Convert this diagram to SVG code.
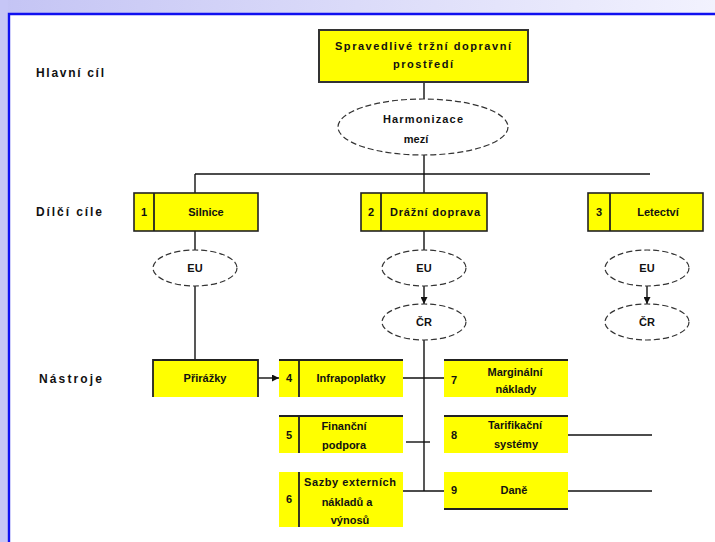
<svg xmlns="http://www.w3.org/2000/svg" width="715" height="542" viewBox="0 0 715 542">
<defs>
<linearGradient id="band" x1="0" y1="0" x2="1" y2="0">
<stop offset="0" stop-color="#c4c4f4"/>
<stop offset="1" stop-color="#f2f2fe"/>
</linearGradient>
<marker id="arr" viewBox="0 0 8 8" refX="8" refY="4" markerWidth="7" markerHeight="7" markerUnits="userSpaceOnUse" orient="auto">
<path d="M0,0 L8,4 L0,8 z" fill="#111"/>
</marker>
<style>
text{font-family:"Liberation Sans",Arial,sans-serif;font-size:11px;font-weight:bold;fill:#111}
.lbl{font-size:12px}
.c{text-anchor:middle}
.box{fill:#ffff00;stroke:#222;stroke-width:1.6}
.fill{fill:#ffff00}
.bd{stroke:#222;stroke-width:1.8;fill:none}
.ell{fill:#fff;stroke:#333;stroke-width:1.2;stroke-dasharray:6 3}
.con line{stroke:#111;stroke-width:1.4}
</style>
</defs>
<rect x="0" y="0" width="715" height="542" fill="#ffffff"/>
<rect x="0" y="0" width="715" height="13" fill="url(#band)"/>
<rect x="0" y="0" width="8" height="542" fill="#c6c6f6"/>
<path d="M9,542 V14 H715" fill="none" stroke="#1010f0" stroke-width="2.4"/>

<g id="labels">
<text class="lbl" x="36" y="77" textLength="68" lengthAdjust="spacing">Hlavní cíl</text>
<text class="lbl" x="36" y="216" textLength="66" lengthAdjust="spacing">Dílčí cíle</text>
<text class="lbl" x="39" y="383" textLength="63" lengthAdjust="spacing">Nástroje</text>
</g>

<g class="con" id="connectors">
<line x1="424" y1="82" x2="424" y2="99"/>
<line x1="424" y1="155" x2="424" y2="174"/>
<line x1="195" y1="174" x2="650" y2="174"/>
<line x1="195" y1="174" x2="195" y2="193"/>
<line x1="424" y1="174" x2="424" y2="193"/>
<line x1="195" y1="231" x2="195" y2="250"/>
<line x1="424" y1="231" x2="424" y2="250"/>
<line x1="195" y1="286" x2="195" y2="360"/>
<line x1="424" y1="286" x2="424" y2="304" marker-end="url(#arr)"/>
<line x1="647" y1="286" x2="647" y2="304" marker-end="url(#arr)"/>
<line x1="424" y1="340" x2="424" y2="491"/>
<line x1="258" y1="378" x2="279" y2="378" marker-end="url(#arr)"/>
<line x1="403" y1="378" x2="444" y2="378"/>
<line x1="406" y1="442" x2="430" y2="442"/>
<line x1="403" y1="491" x2="444" y2="491"/>
<line x1="568" y1="435" x2="652" y2="435"/>
<line x1="568" y1="491" x2="652" y2="491"/>
</g>

<g id="main">
<rect x="319" y="30" width="209" height="52" fill="#ffff00" stroke="#333" stroke-width="2"/>
<text class="c" x="423" y="50" textLength="176" lengthAdjust="spacing">Spravedlivé tržní dopravní</text>
<text class="c" x="423" y="68" textLength="60" lengthAdjust="spacing">prostředí</text>
</g>

<g id="harmonizace">
<ellipse class="ell" cx="423" cy="127" rx="85" ry="28"/>
<text class="c" x="423" y="123" textLength="80" lengthAdjust="spacing">Harmonizace</text>
<text class="c" x="416" y="143">mezí</text>
</g>

<g id="cil1">
<rect class="box" x="134" y="193" width="124" height="38"/>
<line class="bd" x1="154" y1="193" x2="154" y2="231"/>
<text class="c" x="144" y="216">1</text>
<text class="c" x="206" y="216">Silnice</text>
</g>
<g id="cil2">
<rect class="box" x="361" y="193" width="126" height="38"/>
<line class="bd" x1="381" y1="193" x2="381" y2="231"/>
<text class="c" x="371" y="216">2</text>
<text class="c" x="435" y="216" textLength="90" lengthAdjust="spacing">Drážní doprava</text>
</g>
<g id="cil3">
<rect class="box" x="588" y="193" width="115" height="38"/>
<line class="bd" x1="610" y1="193" x2="610" y2="231"/>
<text class="c" x="599" y="216">3</text>
<text class="c" x="658" y="216">Letectví</text>
</g>

<g id="eu1"><ellipse class="ell" cx="195" cy="268" rx="42" ry="18"/><text class="c" x="195" y="272">EU</text></g>
<g id="eu2"><ellipse class="ell" cx="424" cy="268" rx="42" ry="18"/><text class="c" x="424" y="272">EU</text></g>
<g id="eu3"><ellipse class="ell" cx="647" cy="268" rx="42" ry="18"/><text class="c" x="647" y="272">EU</text></g>
<g id="cr2"><ellipse class="ell" cx="424" cy="322" rx="42" ry="18"/><text class="c" x="424" y="326">ČR</text></g>
<g id="cr3"><ellipse class="ell" cx="647" cy="322" rx="42" ry="18"/><text class="c" x="647" y="326">ČR</text></g>

<g id="prirazky">
<rect class="fill" x="153" y="360" width="105" height="37"/>
<path class="bd" d="M153,397 V360 H258 V397"/>
<text class="c" x="205" y="382">Přirážky</text>
</g>

<g id="n4">
<rect class="fill" x="279" y="360" width="124" height="37"/>
<line class="bd" x1="279" y1="360" x2="403" y2="360"/>
<line class="bd" x1="299" y1="360" x2="299" y2="397"/>
<text class="c" x="289" y="382">4</text>
<text class="c" x="351" y="382">Infrapoplatky</text>
</g>
<g id="n5">
<rect class="fill" x="279" y="416" width="124" height="37"/>
<line class="bd" x1="279" y1="416" x2="403" y2="416"/>
<line class="bd" x1="299" y1="416" x2="299" y2="453"/>
<text class="c" x="289" y="439">5</text>
<text class="c" x="344" y="430">Finanční</text>
<text class="c" x="344" y="449">podpora</text>
</g>
<g id="n6">
<rect class="fill" x="279" y="472" width="124" height="55"/>
<line class="bd" x1="299" y1="472" x2="299" y2="527"/>
<text class="c" x="289" y="503">6</text>
<text class="c" x="350" y="486" textLength="92" lengthAdjust="spacing">Sazby externích</text>
<text class="c" x="347" y="506">nákladů a</text>
<text class="c" x="350" y="524">výnosů</text>
</g>
<g id="n7">
<rect class="fill" x="444" y="360" width="124" height="37"/>
<line class="bd" x1="444" y1="360" x2="568" y2="360"/>
<text class="c" x="454" y="384">7</text>
<text class="c" x="515" y="376">Marginální</text>
<text class="c" x="516" y="393">náklady</text>
</g>
<g id="n8">
<rect class="fill" x="444" y="416" width="124" height="37"/>
<line class="bd" x1="444" y1="416" x2="568" y2="416"/>
<text class="c" x="454" y="439">8</text>
<text class="c" x="515" y="429">Tarifikační</text>
<text class="c" x="516" y="448">systémy</text>
</g>
<g id="n9">
<rect class="fill" x="444" y="472" width="124" height="37"/>
<line class="bd" x1="444" y1="509" x2="568" y2="509"/>
<text class="c" x="454" y="494">9</text>
<text class="c" x="514" y="494">Daně</text>
</g>
</svg>
